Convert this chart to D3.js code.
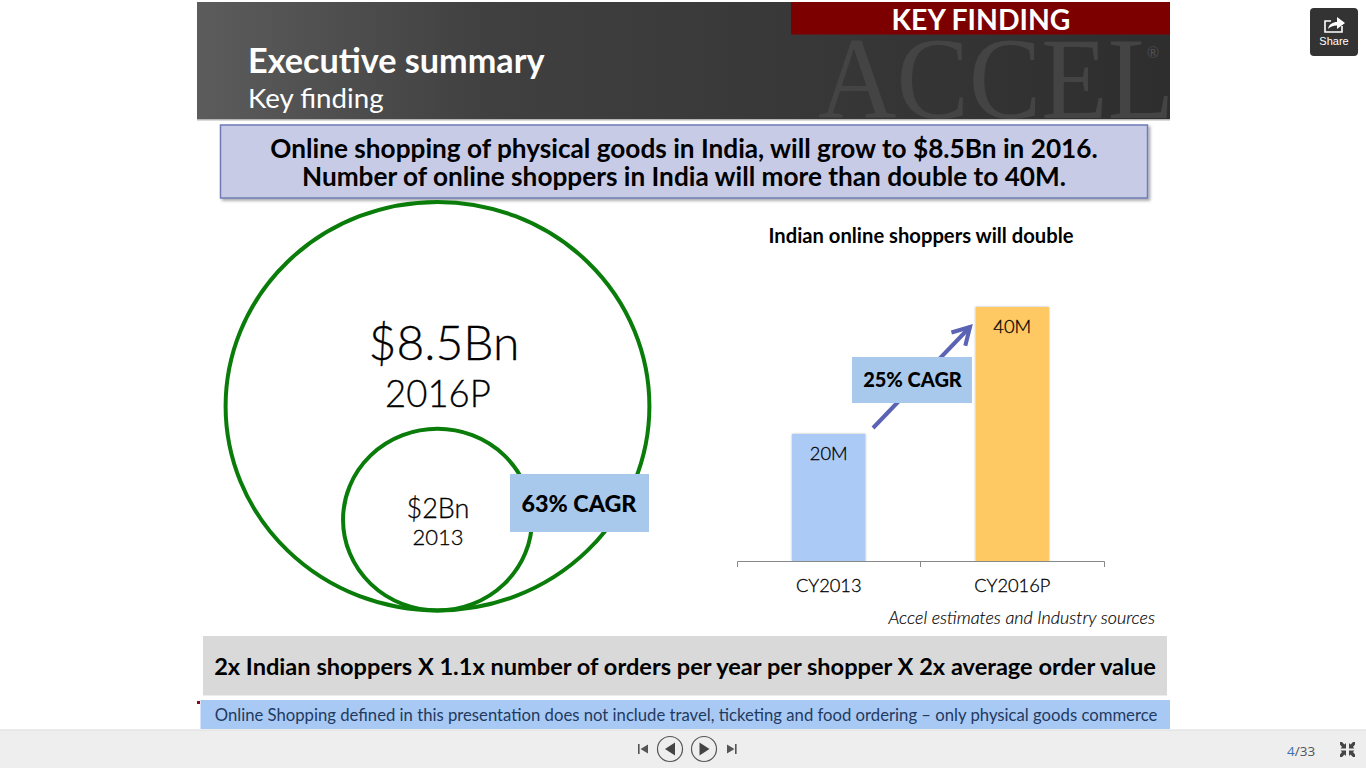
<!DOCTYPE html>
<html><head><meta charset="utf-8">
<script src="https://cdn.jsdelivr.net/npm/d3@7"></script>
<style>html,body{margin:0;padding:0;background:#fff;overflow:hidden}svg{display:block}text{font-family:Lato,sans-serif}.lt{stroke:#000;stroke-width:.3}</style>
</head><body><svg id="c" width="1366" height="768"></svg>
<script>
const barCategories=["CY2013","CY2016P"];
const barValues=[20,40];
const barLabels=["20M","40M"];
const barColors=["#abcaf5","#fec964"];
const circleValues=[8.5,2];
const circleMain=["$8.5Bn","$2Bn"];
const circleSub=["2016P","2013"];
const svg=d3.select("#c");
const defs=svg.append("defs");
const g=defs.append("linearGradient").attr("id","hdr");
[[0,"#5c5c5c"],[0.3,"#404040"],[1,"#2e2e2e"]].forEach(s=>g.append("stop").attr("offset",s[0]).attr("stop-color",s[1]));
const clip=defs.append("clipPath").attr("id","hc");clip.append("rect").attr("x",197).attr("y",2).attr("width",973).attr("height",117);
const fs=defs.append("filter").attr("id","sh").attr("x","-10%").attr("y","-10%").attr("width","120%").attr("height","130%");
fs.append("feDropShadow").attr("dx",2).attr("dy",2).attr("stdDeviation",1.5).attr("flood-color","#000").attr("flood-opacity",0.35);
const fb=defs.append("filter").attr("id","bs").attr("x","-10%").attr("y","-5%").attr("width","120%").attr("height","105%");
fb.append("feDropShadow").attr("dx",0).attr("dy",0).attr("stdDeviation",1.3).attr("flood-color","#000").attr("flood-opacity",0.3);
function rect(x,y,w,h,f){return svg.append("rect").attr("x",x).attr("y",y).attr("width",w).attr("height",h).attr("fill",f)}
function text(x,y,s,size,o={}){return svg.append("text").attr("x",x).attr("y",y).attr("text-anchor",o.a||"middle").attr("font-size",size).attr("font-weight",o.w||400).attr("font-style",o.i||"normal").attr("fill",o.f||"#000").attr("class",o.c||null).text(s)}
// header
rect(197,2,973,117,"url(#hdr)");
svg.append("text").attr("clip-path","url(#hc)").attr("x",818).attr("y",118).attr("font-size",116).style("font-family","'Liberation Serif',serif").attr("fill","#444444").attr("textLength",356).attr("lengthAdjust","spacingAndGlyphs").text("ACCEL");
svg.append("text").attr("x",1153).attr("y",58).attr("text-anchor","middle").attr("font-size",15).attr("fill","#4e4e4e").text("®");
rect(197,119,973,1.5,"#b5b5b5");
rect(791,2,379,32.5,"#7d0000");
text(981,30,"KEY FINDING",28.4,{w:700,f:"#fff"});
text(248,73,"Executive summary",34.2,{a:"start",w:700,f:"#fff"});
text(248,108,"Key finding",27.7,{a:"start",f:"#fff"});
// headline
rect(220.5,125,927,73,"#c8cbe6").attr("stroke","#6f7cb5").attr("stroke-width",1.5).attr("filter","url(#sh)");
text(684,157.5,"Online shopping of physical goods in India, will grow to $8.5Bn in 2016.",26.2,{w:700});
text(684,185.5,"Number of online shoppers in India will more than double to 40M.",26.2,{w:700});
// circles (the slide is slightly squashed vertically)
const r=d3.scalePow().exponent(0.56).domain([0,8.5]).range([0,211.5]);
const squash=0.966, bottom=610.5, cx=437.5;
svg.selectAll("ellipse.m").data(circleValues).join("ellipse").attr("class","m").attr("cx",cx).attr("cy",d=>bottom-r(d)*squash).attr("rx",d=>r(d)+0.4).attr("ry",d=>r(d)*squash).attr("fill","none").attr("stroke","#0a7c0a").attr("stroke-width",4);
text(444,360,circleMain[0],48,{w:300,c:"lt"});
text(438,407,circleSub[0],36.5,{w:300,c:"lt"});
text(438,518,circleMain[1],27,{w:300,c:"lt"});
text(438,545,circleSub[1],22,{w:300,c:"lt"});
rect(510,474,139,58,"#a9c9ec");
text(579,512,"63% CAGR",23.3,{w:900});
// bars
text(921,243,"Indian online shoppers will double",20.2,{w:700});
const x=d3.scaleBand().domain(barCategories).range([737,1104]).paddingInner(0.6).paddingOuter(0.3);
const y=d3.scaleLinear().domain([0,40]).range([561,307]);
svg.selectAll("rect.b").data(barValues).join("rect").attr("class","b").attr("x",(d,i)=>x(barCategories[i])).attr("y",d=>y(d)).attr("width",x.bandwidth()).attr("height",d=>y(0)-y(d)).attr("fill",(d,i)=>barColors[i]).attr("filter","url(#bs)");
svg.selectAll("text.v").data(barValues).join("text").attr("class","v lt").attr("x",(d,i)=>x(barCategories[i])+x.bandwidth()/2).attr("y",d=>y(d)+26).attr("text-anchor","middle").attr("font-size",18.3).attr("font-weight",300).attr("fill","#000").text((d,i)=>barLabels[i]);
const ax=svg.append("g").attr("transform","translate(0,561)").call(d3.axisBottom(x).tickSizeInner(0).tickSizeOuter(6).tickPadding(18));
ax.selectAll("path").attr("stroke","#888");
ax.selectAll("text").attr("font-size",18.3).attr("font-weight",300).attr("fill","#000").attr("class","lt").style("font-family","Lato,sans-serif");
ax.append("line").attr("x1",x.range()[0]+x.step()*1).attr("x2",x.range()[0]+x.step()*1).attr("y1",0).attr("y2",6).attr("stroke","#888");
// arrow
defs.append("marker").attr("id","ah").attr("viewBox","0 0 10 10").attr("refX",8).attr("refY",5).attr("markerUnits","userSpaceOnUse").attr("markerWidth",24).attr("markerHeight",24).attr("orient","auto")
 .append("path").attr("d","M1 1L8 5L1 9").attr("fill","none").attr("stroke","#5b63b5").attr("stroke-width",1.7);
svg.append("line").attr("x1",873).attr("y1",428).attr("x2",970).attr("y2",327).attr("stroke","#5b63b5").attr("stroke-width",4).attr("marker-end","url(#ah)");
rect(852,357,120,46,"#a9c9ec");
text(912.5,387,"25% CAGR",20,{w:900});
text(1155,624,"Accel estimates and Industry sources",17.9,{a:"end",i:"italic",w:300,f:"#000",c:"lt"}).style("stroke-width",.15);
// footer
rect(203,636,964,59.5,"#d9d9d9");
text(685,674.5,"2x Indian shoppers X 1.1x number of orders per year per shopper X 2x average order value",23.6,{w:700});
rect(197,701,3,3,"#8f0a0a");
rect(200.5,700,969.5,29,"#a9c9f5");
text(686,721,"Online Shopping defined in this presentation does not include travel, ticketing and food ordering – only physical goods commerce",16.7,{f:"#1f3a5f"});
// viewer bar
rect(0,730,1366,38,"#eeeeee");
rect(0,729.5,1366,1,"#dcdcdc");
const ctl="#555";
function p(d,f,st){return svg.append("path").attr("d",d).attr("fill",f||ctl).attr("stroke",st||"none")}
rect(638,744,1.6,10,ctl);p("M648 744.5V753.5L640.5 749Z");
svg.append("circle").attr("cx",670).attr("cy",749).attr("r",12.5).attr("fill","none").attr("stroke","#555").attr("stroke-width",1.2);
p("M675 742.5V755.5L665 749Z","#444");
svg.append("circle").attr("cx",704).attr("cy",749).attr("r",12.5).attr("fill","none").attr("stroke","#555").attr("stroke-width",1.2);
p("M699.5 742.5V755.5L709.5 749Z","#444");
rect(735,744,1.6,10,ctl);p("M727 744.5V753.5L734.5 749Z");
const pg=svg.append("text").attr("x",1287).attr("y",756).attr("font-size",13.5).attr("fill","#555").style("font-family","'Open Sans',sans-serif");
pg.append("tspan").attr("fill","#3b6fb0").text("4");pg.append("tspan").text("/33");
[[1340,742,1],[1355,742,-1],[1340,757,1],[1355,757,-1]].forEach(([a,b,s],i)=>{const v=i<2?1:-1;
 p(`M${a} ${b}L${a+s*2} ${b}L${a+s*4.5} ${b+v*2.5}L${a+s*6} ${b+v*1}V${b+v*6.5}H${a+s*0.5}L${a+s*2} ${b+v*5}L${a} ${b+v*2.5}Z`,"#444")});
// share
rect(1310,8,48,48,"#333").attr("rx",4);
svg.append("path").attr("d","M1331 21H1325V32H1342V26").attr("fill","none").attr("stroke","#fff").attr("stroke-width",1.6);
p("M1328 29C1329 24 1333 22 1337 22V17L1345 23L1337 29V25.5C1333 25.5 1330 27 1328 29Z","#fff");
text(1334,45,"Share",11,{f:"#fff"}).style("font-family","'Liberation Sans',sans-serif");
</script></body></html>
